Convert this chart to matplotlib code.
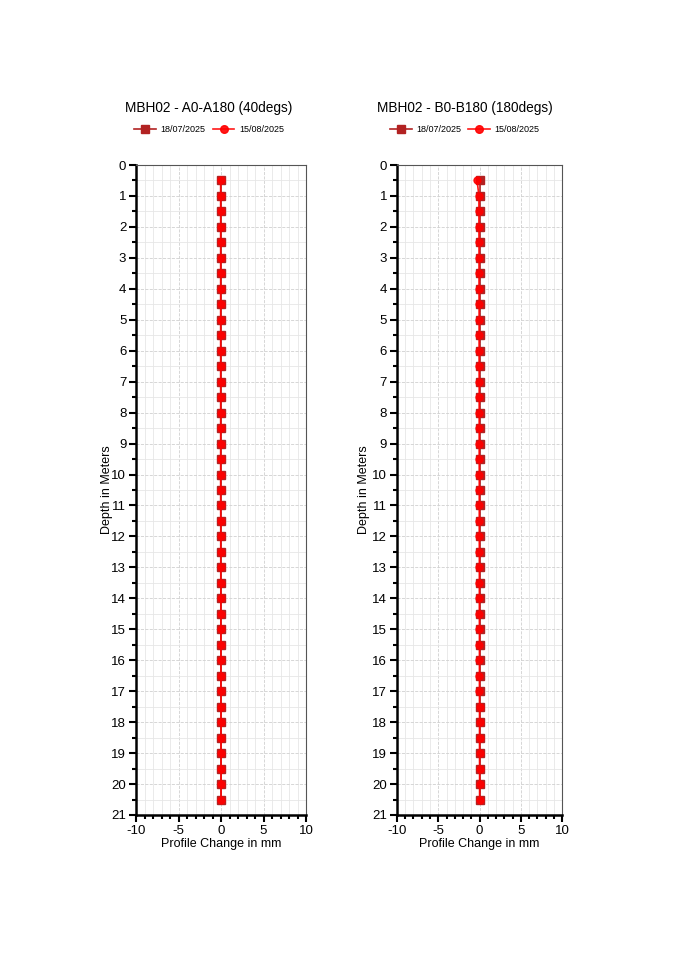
import numpy as np
import matplotlib
matplotlib.use("Agg")
import matplotlib.pyplot as plt
from matplotlib.ticker import MultipleLocator

plt.rcParams['font.family'] = ['Liberation Sans', 'DejaVu Sans']
plt.rcParams['axes.unicode_minus'] = False

# Datos
depth = [0.5 * i for i in range(1, 42)]  # 0.5 .. 20.5 m
labels = ['18/07/2025', '15/08/2025']

a_base = [0.0] * 41
a_now = [-0.05, -0.05, -0.05, -0.05, -0.05, -0.05, -0.05, -0.05, -0.05, -0.05,
         -0.05, -0.05, -0.05, -0.05, -0.05, -0.05, -0.05, -0.05, -0.05, -0.05,
         -0.05, -0.05, -0.04, -0.04, -0.04, -0.04, -0.03, -0.03, -0.03, -0.03,
         -0.02, -0.02, -0.02, -0.02, -0.01, -0.01, -0.01, -0.01, 0.0, 0.0, 0.0]

b_base = [0.0] * 41
b_now = [-0.3, -0.08, -0.08, -0.08, -0.07, -0.07, -0.07, -0.07, -0.06, -0.06,
         -0.06, -0.06, -0.06, -0.05, -0.05, -0.05, -0.05, -0.05, -0.05, -0.04,
         -0.04, -0.04, -0.04, -0.04, -0.03, -0.03, -0.03, -0.03, -0.03, -0.02,
         -0.02, -0.02, -0.02, -0.02, -0.01, -0.01, -0.01, -0.01, 0.0, 0.0, 0.0]

titles = ['MBH02 - A0-A180 (40degs)', 'MBH02 - B0-B180 (180degs)']

fig = plt.figure(figsize=(6.75, 9.55), dpi=100)
ax1 = fig.add_axes([0.2015, 0.1466, 0.252, 0.6806])
ax2 = fig.add_axes([0.588, 0.1466, 0.245, 0.6806])

for ax, base, now, title, ylx, lgx in [(ax1, a_base, a_now, titles[0], -0.135, 0.43),
                                       (ax2, b_base, b_now, titles[1], -0.16, 0.41)]:
    ax.plot(base, depth, color='#b22222', marker='s', markersize=5.5, linewidth=1.2,
            label=labels[0], zorder=3)
    ax.plot(now, depth, color='#ff0000', marker='o', markersize=5, linewidth=1.2,
            label=labels[1], zorder=4, alpha=0.9)
    ax.set_xlim(-10, 10)
    ax.set_ylim(21, 0)
    ax.xaxis.set_major_locator(MultipleLocator(5))
    ax.xaxis.set_minor_locator(MultipleLocator(1))
    ax.yaxis.set_major_locator(MultipleLocator(1))
    ax.yaxis.set_minor_locator(MultipleLocator(0.5))
    ax.grid(which='major', color='#d0d0d0', linestyle='--', linewidth=0.6)
    ax.grid(which='minor', color='#e6e6e6', linestyle='-', linewidth=0.6)
    ax.set_axisbelow(True)
    ax.tick_params(which='major', direction='out', length=5, width=1.5, labelsize=9.5, pad=2)
    ax.tick_params(which='minor', direction='out', length=3, width=1.5)
    for s in ['left', 'bottom']:
        ax.spines[s].set_linewidth(1.8)
    for s in ['top', 'right']:
        ax.spines[s].set_linewidth(0.8)
        ax.spines[s].set_color('#555555')
    ax.set_xlabel('Profile Change in mm', fontsize=9, labelpad=1)
    ax.set_ylabel('Depth in Meters', fontsize=9)
    ax.yaxis.set_label_coords(ylx, 0.5)
    ax.set_title(title, fontsize=9.8, pad=38, x=lgx)
    ax.legend(loc='lower center', bbox_to_anchor=(lgx, 1.035), ncol=2, frameon=False,
              fontsize=6.5, handlelength=2.4, columnspacing=0.8, handletextpad=0.5,
              markerscale=1.1)

fig.savefig('out.png', dpi=100)
